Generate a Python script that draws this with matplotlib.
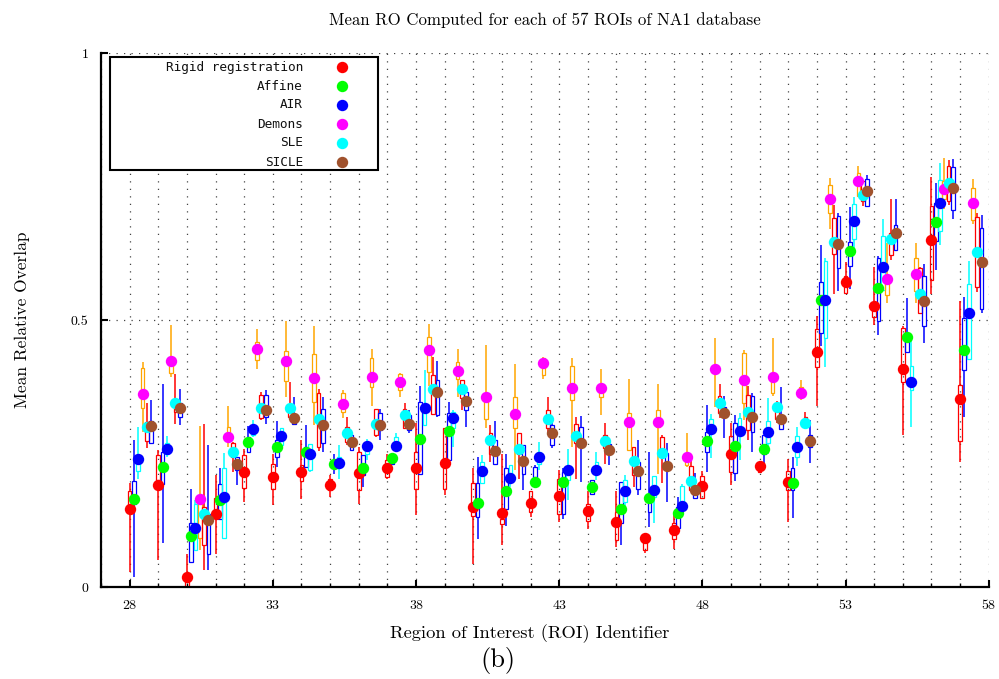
import matplotlib
matplotlib.use("Agg")
import matplotlib.pyplot as plt
import numpy as np
from matplotlib.ticker import MultipleLocator, FixedLocator, FixedFormatter
from matplotlib.patches import Rectangle

plt.rcParams['axes.formatter.use_mathtext'] = True

rois = list(range(28, 58))
methods = ["Rigid registration", "Affine", "AIR", "Demons", "SLE", "SICLE"]
dot_colors = ["#ff0000", "#00ff00", "#0000ff", "#ff00ff", "#00ffff", "#a0522d"]
box_colors = ["#ff0000", "#0000ff", "#00ffff", "#ffa500", "#ff0000", "#0000ff"]

# mean values per method (ROI 28..57)
mean_rigid = [0.146, 0.191, 0.019, 0.1375, 0.216, 0.206, 0.216, 0.191, 0.214, 0.223,
              0.222, 0.233, 0.149, 0.139, 0.1575, 0.17, 0.142, 0.121, 0.0925, 0.106,
              0.189, 0.249, 0.2275, 0.1975, 0.441, 0.571, 0.526, 0.409, 0.649, 0.352]
mean_affine = [0.165, 0.225, 0.095, 0.1625, 0.271, 0.2625, 0.253, 0.23, 0.223, 0.241,
               0.278, 0.2925, 0.1575, 0.18, 0.197, 0.197, 0.1875, 0.146, 0.167, 0.139,
               0.274, 0.264, 0.258, 0.194, 0.537, 0.63, 0.56, 0.469, 0.683, 0.443]
mean_air = [0.24, 0.258, 0.111, 0.169, 0.295, 0.2825, 0.249, 0.2325, 0.264, 0.264,
            0.336, 0.317, 0.2175, 0.205, 0.244, 0.219, 0.22, 0.179, 0.181, 0.151,
            0.296, 0.293, 0.291, 0.262, 0.538, 0.685, 0.6, 0.383, 0.719, 0.514]
mean_demons = [0.362, 0.423, 0.164, 0.281, 0.445, 0.423, 0.391, 0.342, 0.394, 0.384,
               0.444, 0.404, 0.356, 0.324, 0.42, 0.373, 0.372, 0.309, 0.309, 0.244,
               0.409, 0.388, 0.3925, 0.364, 0.726, 0.76, 0.577, 0.586, 0.746, 0.719]
mean_sle = [0.30, 0.344, 0.136, 0.2525, 0.336, 0.336, 0.315, 0.289, 0.305, 0.322,
            0.37, 0.37, 0.276, 0.259, 0.314, 0.2825, 0.2725, 0.236, 0.251, 0.199,
            0.344, 0.3275, 0.337, 0.308, 0.646, 0.734, 0.652, 0.549, 0.756, 0.6275]
mean_sicle = [0.302, 0.336, 0.125, 0.231, 0.331, 0.317, 0.303, 0.271, 0.303, 0.306,
              0.366, 0.3475, 0.254, 0.236, 0.2875, 0.27, 0.256, 0.217, 0.227, 0.181,
              0.326, 0.3175, 0.315, 0.274, 0.643, 0.741, 0.663, 0.535, 0.7475, 0.608]
means = [mean_rigid, mean_affine, mean_air, mean_demons, mean_sle, mean_sicle]

# candlestick boxes (q1, q3) and whiskers (min, max) per slot
box0_lo = [0.145, 0.2, 0.0, 0.131, 0.186, 0.184, 0.199, 0.181, 0.181, 0.206, 0.184, 0.184, 0.1325, 0.1175, 0.141,
           0.1375, 0.124, 0.0875, 0.07, 0.089, 0.166, 0.216, 0.216, 0.182, 0.412, 0.551, 0.506, 0.383, 0.574, 0.274]
box0_hi = [0.180, 0.248, 0.025, 0.166, 0.247, 0.23, 0.228, 0.203, 0.252, 0.2375, 0.252, 0.297, 0.195, 0.128, 0.18,
           0.203, 0.155, 0.141, 0.0875, 0.12, 0.207, 0.282, 0.232, 0.218, 0.483, 0.582, 0.531, 0.485, 0.714, 0.379]
wh0_lo = [0.028, 0.051, 0.0, 0.0625, 0.159, 0.153, 0.164, 0.169, 0.156, 0.203, 0.134, 0.172, 0.044, 0.078, 0.131,
          0.122, 0.109, 0.075, 0.064, 0.072, 0.164, 0.191, 0.213, 0.1225, 0.339, 0.551, 0.491, 0.285, 0.549, 0.235]
wh0_hi = [0.195, 0.256, 0.0625, 0.209, 0.2575, 0.25, 0.276, 0.209, 0.2625, 0.25, 0.3075, 0.297, 0.222, 0.25, 0.18,
          0.22, 0.18, 0.18, 0.1, 0.1375, 0.2175, 0.307, 0.235, 0.239, 0.507, 0.608, 0.599, 0.488, 0.768, 0.535]

box1_lo = [0.156, 0.192, 0.047, 0.128, 0.253, 0.244, 0.225, 0.222, 0.209, 0.231, 0.2125, 0.2375, 0.131, 0.147, 0.206,
           0.1375, 0.175, 0.12, 0.14, 0.11, 0.252, 0.213, 0.249, 0.182, 0.476, 0.602, 0.499, 0.441, 0.6475, 0.407]
box1_hi = [0.199, 0.253, 0.12, 0.1925, 0.281, 0.275, 0.2625, 0.2375, 0.247, 0.247, 0.347, 0.325, 0.194, 0.222, 0.225,
           0.216, 0.2, 0.197, 0.172, 0.15, 0.291, 0.307, 0.285, 0.2225, 0.571, 0.646, 0.616, 0.468, 0.719, 0.504]
wh1_lo = [0.019, 0.083, 0.047, 0.128, 0.251, 0.225, 0.225, 0.211, 0.1875, 0.231, 0.2125, 0.2375, 0.089, 0.114, 0.197,
          0.128, 0.175, 0.078, 0.1125, 0.103, 0.216, 0.199, 0.2225, 0.129, 0.451, 0.558, 0.4725, 0.441, 0.594, 0.319]
wh1_hi = [0.276, 0.381, 0.184, 0.223, 0.301, 0.311, 0.303, 0.249, 0.247, 0.25, 0.376, 0.347, 0.244, 0.25, 0.228,
          0.222, 0.2, 0.197, 0.253, 0.169, 0.341, 0.3225, 0.285, 0.243, 0.641, 0.712, 0.619, 0.541, 0.756, 0.544]

box2_lo = [0.218, 0.25, 0.069, 0.091, 0.284, 0.266, 0.22, 0.225, 0.25, 0.2625, 0.303, 0.297, 0.195, 0.197, 0.231,
           0.2, 0.213, 0.159, 0.169, 0.15, 0.289, 0.282, 0.27, 0.244, 0.466, 0.652, 0.557, 0.369, 0.666, 0.427]
box2_hi = [0.247, 0.27, 0.156, 0.223, 0.3, 0.297, 0.2675, 0.244, 0.27, 0.281, 0.3375, 0.328, 0.234, 0.228, 0.253,
           0.22, 0.234, 0.201, 0.2075, 0.19, 0.314, 0.316, 0.31, 0.282, 0.611, 0.718, 0.658, 0.413, 0.763, 0.568]
wh2_lo = [0.203, 0.243, 0.067, 0.091, 0.281, 0.2625, 0.216, 0.203, 0.2375, 0.256, 0.301, 0.2625, 0.195, 0.1875, 0.219,
          0.1625, 0.2, 0.1475, 0.119, 0.1375, 0.241, 0.238, 0.25, 0.226, 0.412, 0.629, 0.554, 0.299, 0.641, 0.427]
wh2_hi = [0.300, 0.283, 0.162, 0.251, 0.3125, 0.297, 0.2675, 0.266, 0.278, 0.2875, 0.406, 0.331, 0.247, 0.228, 0.272,
          0.2575, 0.253, 0.209, 0.2075, 0.1925, 0.324, 0.326, 0.354, 0.3, 0.616, 0.731, 0.689, 0.46, 0.794, 0.61]

box3_lo = [0.336, 0.401, 0.091, 0.275, 0.425, 0.386, 0.347, 0.328, 0.374, 0.369, 0.403, 0.39, 0.314, 0.297, 0.397,
           0.35, 0.356, 0.256, 0.3, 0.228, 0.4, 0.344, 0.363, 0.355, 0.70, 0.732, 0.5475, 0.554, 0.726, 0.687]
box3_hi = [0.411, 0.422, 0.166, 0.3, 0.459, 0.4425, 0.436, 0.364, 0.428, 0.399, 0.469, 0.422, 0.356, 0.356, 0.428,
           0.414, 0.381, 0.326, 0.331, 0.244, 0.416, 0.438, 0.394, 0.375, 0.752, 0.776, 0.585, 0.616, 0.76, 0.7475]
wh3_lo = [0.291, 0.394, 0.069, 0.2625, 0.409, 0.356, 0.303, 0.316, 0.339, 0.356, 0.376, 0.356, 0.297, 0.219, 0.39,
          0.2625, 0.322, 0.256, 0.2125, 0.225, 0.338, 0.313, 0.357, 0.351, 0.671, 0.732, 0.531, 0.532, 0.708, 0.679]
wh3_hi = [0.422, 0.491, 0.301, 0.339, 0.484, 0.499, 0.489, 0.369, 0.445, 0.401, 0.4925, 0.445, 0.453, 0.4175, 0.431,
          0.428, 0.409, 0.389, 0.38, 0.289, 0.466, 0.444, 0.466, 0.388, 0.766, 0.788, 0.644, 0.644, 0.804, 0.764]

box4_lo = [0.274, 0.328, 0.078, 0.244, 0.316, 0.319, 0.2625, 0.272, 0.284, 0.297, 0.324, 0.353, 0.25, 0.25, 0.297,
           0.269, 0.26, 0.209, 0.244, 0.181, 0.326, 0.294, 0.315, 0.31, 0.624, 0.723, 0.6225, 0.514, 0.7225, 0.562]
box4_hi = [0.309, 0.336, 0.15, 0.269, 0.359, 0.334, 0.3625, 0.3, 0.334, 0.3325, 0.397, 0.3875, 0.2875, 0.2875, 0.331,
           0.306, 0.285, 0.2625, 0.281, 0.227, 0.357, 0.36, 0.335, 0.319, 0.691, 0.76, 0.663, 0.598, 0.789, 0.693]
wh4_lo = [0.261, 0.305, 0.0325, 0.216, 0.3125, 0.3175, 0.255, 0.266, 0.281, 0.295, 0.322, 0.331, 0.234, 0.203, 0.291,
          0.203, 0.231, 0.1875, 0.194, 0.18, 0.316, 0.276, 0.307, 0.307, 0.548, 0.713, 0.613, 0.513, 0.716, 0.552]
wh4_hi = [0.344, 0.399, 0.305, 0.272, 0.366, 0.384, 0.37, 0.3175, 0.334, 0.344, 0.43, 0.3875, 0.303, 0.2875, 0.356,
          0.3175, 0.3075, 0.2625, 0.284, 0.238, 0.381, 0.376, 0.3475, 0.327, 0.716, 0.763, 0.727, 0.6, 0.8, 0.701]

box5_lo = [0.270, 0.318, 0.0625, 0.219, 0.319, 0.306, 0.27, 0.256, 0.294, 0.294, 0.322, 0.331, 0.231, 0.2125, 0.266,
           0.266, 0.25, 0.184, 0.225, 0.166, 0.319, 0.291, 0.296, 0.263, 0.597, 0.714, 0.632, 0.488, 0.706, 0.521]
box5_hi = [0.311, 0.345, 0.1375, 0.244, 0.359, 0.322, 0.334, 0.284, 0.325, 0.322, 0.3875, 0.366, 0.275, 0.266, 0.303,
           0.3, 0.2675, 0.234, 0.251, 0.185, 0.338, 0.358, 0.307, 0.285, 0.695, 0.764, 0.677, 0.582, 0.787, 0.6725]
wh5_lo = [0.270, 0.303, 0.0325, 0.191, 0.306, 0.306, 0.253, 0.256, 0.275, 0.2875, 0.319, 0.299, 0.231, 0.181, 0.26,
          0.197, 0.228, 0.172, 0.159, 0.166, 0.279, 0.252, 0.296, 0.233, 0.554, 0.713, 0.632, 0.457, 0.689, 0.513]
wh5_hi = [0.351, 0.370, 0.266, 0.244, 0.369, 0.355, 0.356, 0.284, 0.3325, 0.331, 0.424, 0.366, 0.311, 0.266, 0.31,
          0.32, 0.272, 0.276, 0.27, 0.214, 0.357, 0.364, 0.374, 0.312, 0.701, 0.772, 0.727, 0.604, 0.802, 0.6975]

boxes_lo = [box0_lo, box1_lo, box2_lo, box3_lo, box4_lo, box5_lo]
boxes_hi = [box0_hi, box1_hi, box2_hi, box3_hi, box4_hi, box5_hi]
whis_lo = [wh0_lo, wh1_lo, wh2_lo, wh3_lo, wh4_lo, wh5_lo]
whis_hi = [wh0_hi, wh1_hi, wh2_hi, wh3_hi, wh4_hi, wh5_hi]

W, H = 999, 679
fig = plt.figure(figsize=(W / 100, H / 100), dpi=100)
ax_l, ax_r, ax_t, ax_b = 101, 988.7, 53, 587
ax = fig.add_axes([ax_l / W, (H - ax_b) / H, (ax_r - ax_l) / W, (ax_b - ax_t) / H])

x = np.array(rois, dtype=float)
step = 0.15
bw = 0.13
for k in range(6):
    xs = x + k * step
    lo = np.array(boxes_lo[k]); hi = np.array(boxes_hi[k])
    wl = np.array(whis_lo[k]); wh = np.array(whis_hi[k])
    ax.vlines(xs, wl, lo, colors=box_colors[k], linewidth=1.1, zorder=2)
    ax.vlines(xs, hi, wh, colors=box_colors[k], linewidth=1.1, zorder=2)
    ax.bar(xs, hi - lo, bottom=lo, width=bw, fill=False, edgecolor=box_colors[k],
           linewidth=0.9, zorder=2)

for k in range(6):
    ax.plot(x + k * step, means[k], 'o', color=dot_colors[k], markersize=8.2,
            markeredgewidth=0, zorder=3 + k)

ax.set_xlim(27, 58)
ax.set_ylim(0, 1)
ax.xaxis.set_major_locator(MultipleLocator(5, offset=3))
ax.xaxis.set_minor_locator(MultipleLocator(1))
ax.yaxis.set_major_locator(FixedLocator([0, 0.5, 1]))
ax.yaxis.set_major_formatter(FixedFormatter(["0", "0.5", "1"]))
ax.xaxis.set_major_formatter(plt.FuncFormatter(lambda v, p: "%d" % round(v)))

for s in ["top", "right"]:
    ax.spines[s].set_visible(False)
for s in ["left", "bottom"]:
    ax.spines[s].set_linewidth(1.6)

ax.tick_params(axis='both', which='major', direction='in', length=5, width=1.5,
               labelsize=10, pad=9)
ax.tick_params(axis='y', which='major', pad=9)
ax.tick_params(axis='x', which='minor', direction='in', length=3, width=1)
ax.tick_params(axis='y', which='minor', left=False)
for lab in ax.get_xticklabels() + ax.get_yticklabels():
    lab.set_family('cmr10')

dot = (0, (1, 5))
ax.grid(True, axis='x', which='both', linestyle=dot, color='#444444', linewidth=0.9)
ax.grid(True, axis='y', which='major', linestyle=dot, color='#444444', linewidth=0.9)
ax.set_axisbelow(True)

# legend (drawn manually, right aligned labels like the original)
lx0 = (110 - ax_l) / (ax_r - ax_l); lx1 = (378 - ax_l) / (ax_r - ax_l)
ly0 = (ax_b - 170) / (ax_b - ax_t); ly1 = (ax_b - 57) / (ax_b - ax_t)
ax.add_patch(Rectangle((lx0, ly0), lx1 - lx0, ly1 - ly0, transform=ax.transAxes,
                       facecolor='white', edgecolor='black', linewidth=1.5, zorder=20))
tx = (303 - ax_l) / (ax_r - ax_l)
mx = (342 - ax_l) / (ax_r - ax_l)
for i, (name, col) in enumerate(zip(methods, dot_colors)):
    yy = (ax_b - (67 + 19 * i)) / (ax_b - ax_t)
    ax.text(tx, yy, name, transform=ax.transAxes, ha='right', va='center',
            family='DejaVu Sans Mono', fontsize=9.2, color='#111111', zorder=21)
    ax.plot([mx], [yy], 'o', color=col, markersize=8.2, markeredgewidth=0,
            transform=ax.transAxes, zorder=21, clip_on=False)

fig.text((ax_l + ax_r) / 2 / W, 1 - 20 / H,
         "Mean RO Computed for each of 57 ROIs of NA1 database",
         ha='center', va='center', family='cmr10', fontsize=12.1)
fig.text(530 / W, 1 - 634 / H, "Region of Interest (ROI) Identifier",
         ha='center', va='center', family='cmr10', fontsize=13.3)
fig.text(22 / W, 1 - 320 / H, "Mean Relative Overlap", rotation=90,
         ha='center', va='center', family='cmr10', fontsize=12.5)
fig.text(498 / W, 1 - 660 / H, "(b)", ha='center', va='center',
         family='cmr10', fontsize=19)

fig.savefig("out.png", dpi=100)
